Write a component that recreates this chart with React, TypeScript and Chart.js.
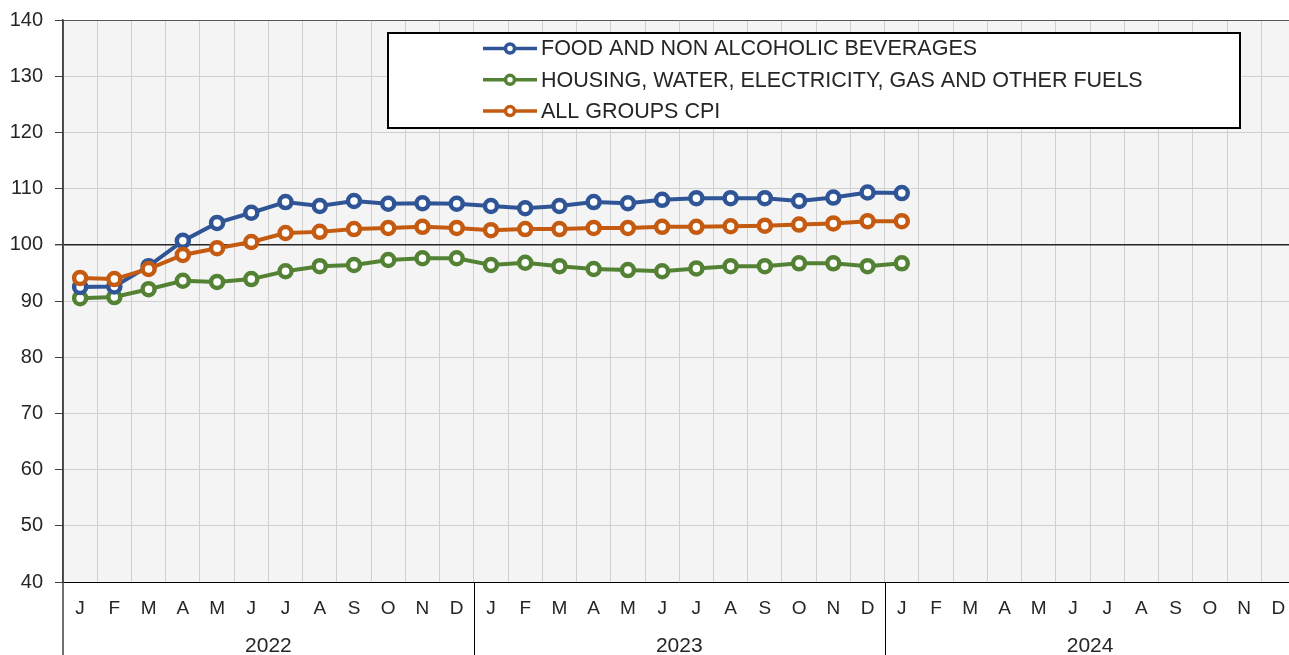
import React, { useEffect, useRef } from "react";
import { Chart, registerables } from "chart.js";

Chart.register(...registerables);

const years = ["2022", "2023", "2024"];
const months = ["J", "F", "M", "A", "M", "J", "J", "A", "S", "O", "N", "D"];

const foodLabel = "FOOD AND NON ALCOHOLIC BEVERAGES";
const housingLabel = "HOUSING, WATER, ELECTRICITY, GAS AND OTHER FUELS";
const allLabel = "ALL GROUPS CPI";

const food = [
  92.5, 92.6, 96.2, 100.7, 103.9, 105.7, 107.6, 106.9, 107.8, 107.3, 107.4, 107.3,
  106.9, 106.5, 106.9, 107.6, 107.4, 108.0, 108.3, 108.3, 108.3, 107.8, 108.4, 109.3,
  109.2,
];
const housing = [
  90.5, 90.7, 92.1, 93.6, 93.4, 93.9, 95.3, 96.2, 96.4, 97.3, 97.6, 97.6,
  96.4, 96.8, 96.2, 95.7, 95.5, 95.3, 95.8, 96.2, 96.2, 96.7, 96.7, 96.2,
  96.7,
];
const allGroups = [
  94.1, 93.9, 95.7, 98.2, 99.4, 100.5, 102.1, 102.3, 102.8, 103.0, 103.2, 103.0,
  102.6, 102.8, 102.8, 103.0, 103.0, 103.2, 103.2, 103.3, 103.4, 103.6, 103.8, 104.2,
  104.2,
];

const yMin = 40;
const yMax = 140;
const yStep = 10;

const FONT = "'Liberation Sans', Arial, sans-serif";
const TEXT = "#262626";

const bgPlugin = {
  id: "bgPlugin",
  beforeDraw(chart: any) {
    const { ctx, chartArea } = chart;
    ctx.save();
    ctx.fillStyle = "#f4f4f4";
    ctx.fillRect(chartArea.left, chartArea.top, chartArea.right - chartArea.left, chartArea.bottom - chartArea.top);
    ctx.restore();
  },
};

const yearPlugin = {
  id: "yearPlugin",
  afterDraw(chart: any) {
    const { ctx, chartArea, height } = chart;
    const xs = chart.scales.x;
    ctx.save();
    ctx.strokeStyle = "#404040";
    ctx.lineWidth = 1.5;
    ctx.beginPath();
    ctx.moveTo(chartArea.left, chartArea.top);
    ctx.lineTo(chartArea.left, height);
    ctx.stroke();
    ctx.lineWidth = 1;
    ctx.strokeStyle = "#000";
    ctx.font = `21px ${FONT}`;
    ctx.fillStyle = TEXT;
    ctx.textAlign = "center";
    ctx.textBaseline = "middle";
    years.forEach((yr, i) => {
      const start = xs.getPixelForValue(i * months.length - 0.5);
      const end = xs.getPixelForValue((i + 1) * months.length - 0.5);
      if (i > 0) {
        ctx.beginPath();
        ctx.moveTo(Math.round(start) + 0.5, chartArea.bottom);
        ctx.lineTo(Math.round(start) + 0.5, height);
        ctx.stroke();
      }
      ctx.fillText(yr, (start + end) / 2, chartArea.bottom + 64);
    });
    ctx.restore();
  },
};

const legendPlugin = {
  id: "legendPlugin",
  afterDraw(chart: any) {
    const { ctx } = chart;
    const bx = 388, by = 33, bw = 852, bh = 95;
    ctx.save();
    ctx.fillStyle = "#ffffff";
    ctx.fillRect(bx, by, bw, bh);
    ctx.strokeStyle = "#000";
    ctx.lineWidth = 2;
    ctx.strokeRect(bx, by, bw, bh);
    ctx.font = `21.5px ${FONT}`;
    ctx.textBaseline = "middle";
    ctx.textAlign = "left";
    chart.data.datasets.forEach((ds: any, i: number) => {
      const y = 48.5 + i * 31.3;
      ctx.strokeStyle = ds.borderColor;
      ctx.lineWidth = 3.5;
      ctx.beginPath();
      ctx.moveTo(483, y);
      ctx.lineTo(537, y);
      ctx.stroke();
      ctx.beginPath();
      ctx.arc(510, y, 4.5, 0, Math.PI * 2);
      ctx.fillStyle = "#fff";
      ctx.fill();
      ctx.lineWidth = 3.5;
      ctx.stroke();
      ctx.fillStyle = TEXT;
      ctx.fillText(ds.label, 541, y + 1);
    });
    ctx.restore();
  },
};

export default function App() {
  const ref = useRef<HTMLCanvasElement | null>(null);

  useEffect(() => {
    if (!ref.current) return;
    const labels = years.flatMap(() => months);
    const mk = (label: string, data: number[], color: string, order: number) => ({
      label,
      data,
      borderColor: color,
      backgroundColor: "#ffffff",
      pointBackgroundColor: "#ffffff",
      pointBorderColor: color,
      pointRadius: 6,
      pointBorderWidth: 4.5,
      borderWidth: 4,
      tension: 0,
      order,
    });
    const chart = new Chart(ref.current, {
      type: "line",
      data: {
        labels,
        datasets: [
          mk(foodLabel, food, "#2F5597", 1),
          mk(housingLabel, housing, "#548235", 2),
          mk(allLabel, allGroups, "#C55A11", 0),
        ],
      },
      options: {
        responsive: false,
        animation: false,
        devicePixelRatio: 1,
        layout: { padding: { top: 20, right: 1, left: 0, bottom: 0 } },
        plugins: { legend: { display: false }, tooltip: { enabled: false } },
        scales: {
          x: {
            type: "category",
            offset: true,
            afterFit: (s: any) => { s.height = 73; s.paddingLeft = 0; s.paddingRight = 0; },
            grid: { offset: true, color: "#d0d0d0", lineWidth: 1, drawTicks: false },
            border: { display: true, color: "#000", width: 1 },
            ticks: {
              autoSkip: false,
              maxRotation: 0,
              padding: 15,
              color: TEXT,
              font: { family: FONT, size: 19 },
            },
          },
          y: {
            min: yMin,
            max: yMax,
            afterFit: (s: any) => { s.width = 63; s.paddingTop = 0; s.paddingBottom = 0; },
            grid: {
              color: (c: any) => (c.tick && c.tick.value === 100 ? "#262626" : c.tick && c.tick.value === yMax ? "#595959" : "#d0d0d0"),
              lineWidth: (c: any) => (c.tick && c.tick.value === 100 ? 1.4 : 1),
              tickLength: 8,
              tickColor: "#404040",
            },
            border: { display: true, color: "#404040", width: 1.5 },
            ticks: {
              stepSize: yStep,
              padding: 12,
              color: TEXT,
              font: { family: FONT, size: 20 },
            },
          },
        },
      },
      plugins: [bgPlugin, yearPlugin, legendPlugin],
    });
    return () => chart.destroy();
  }, []);

  return (
    <div style={{ position: "fixed", left: 0, top: 0, width: 1289, height: 655, overflow: "hidden", background: "#fff" }}>
      <canvas ref={ref} width={1306} height={655} style={{ display: "block" }} />
    </div>
  );
}
